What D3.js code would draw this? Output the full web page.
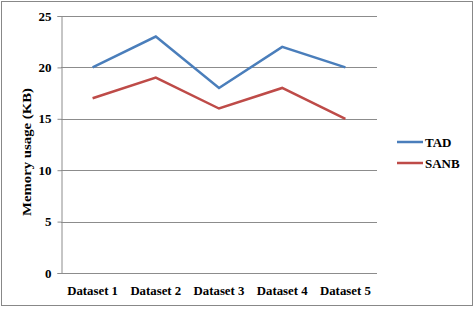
<!DOCTYPE html>
<html>
<head>
<meta charset="utf-8">
<script src="https://cdn.jsdelivr.net/npm/d3@7"></script>
<style>
  html, body { margin: 0; padding: 0; background: #fff; }
  svg { display: block; }
  text { font-family: "Liberation Serif", "Times New Roman", serif; font-weight: bold; fill: #000; }
</style>
</head>
<body>
<svg id="chart" width="475" height="309"></svg>
<script>
const categories = ['Dataset 1', 'Dataset 2', 'Dataset 3', 'Dataset 4', 'Dataset 5'];
const tadValues = [20, 23, 18, 22, 20];
const sanbValues = [17, 19, 16, 18, 15];
const yTicks = [0, 5, 10, 15, 20, 25];

const series = [
  { name: 'TAD', values: tadValues, color: '#4a7ebb' },
  { name: 'SANB', values: sanbValues, color: '#be4b48' }
];

const svg = d3.select('#chart');
const plot = { left: 61, right: 377, top: 16, bottom: 273 };

// outer frame
svg.append('rect')
  .attr('x', 1.5).attr('y', 1.5)
  .attr('width', 471).attr('height', 304)
  .attr('fill', '#fff')
  .attr('stroke', '#888').attr('stroke-width', 1);

const x = d3.scaleBand().domain(categories).range([plot.left, plot.right]);
const y = d3.scaleLinear().domain([0, 25]).range([plot.bottom, plot.top]);

// gridlines
svg.append('g')
  .selectAll('line')
  .data(yTicks.filter(d => d > 0))
  .join('line')
  .attr('x1', plot.left).attr('x2', plot.right)
  .attr('y1', d => Math.round(y(d)) + 0.5).attr('y2', d => Math.round(y(d)) + 0.5)
  .attr('stroke', '#8c8c8c').attr('stroke-width', 1);

// y axis
const yAxis = svg.append('g')
  .attr('transform', `translate(${plot.left + 0.5},0)`)
  .call(d3.axisLeft(y).tickValues(yTicks).tickSize(4).tickPadding(6));
yAxis.select('.domain').attr('stroke', '#8c8c8c');
yAxis.selectAll('.tick line').attr('stroke', '#8c8c8c');
yAxis.selectAll('text').style('font-size', '13px');

// x axis line
svg.append('line')
  .attr('x1', plot.left).attr('x2', plot.right)
  .attr('y1', plot.bottom + 0.5).attr('y2', plot.bottom + 0.5)
  .attr('stroke', '#8c8c8c');

svg.append('g')
  .selectAll('text')
  .data(categories)
  .join('text')
  .attr('x', d => x(d) + x.bandwidth() / 2)
  .attr('y', 295)
  .attr('text-anchor', 'middle')
  .style('font-size', '12.8px')
  .text(d => d);

// y title (stretched along its length like the original)
svg.append('text')
  .attr('transform', 'translate(31,152) rotate(-90)')
  .attr('text-anchor', 'middle')
  .attr('textLength', 128)
  .attr('lengthAdjust', 'spacingAndGlyphs')
  .style('font-size', '12.5px')
  .text('Memory usage (KB)');

// lines
const line = d3.line()
  .x((d, i) => x(categories[i]) + x.bandwidth() / 2)
  .y(d => y(d));

svg.append('g')
  .selectAll('path')
  .data(series)
  .join('path')
  .attr('d', d => line(d.values))
  .attr('fill', 'none')
  .attr('stroke', d => d.color)
  .attr('stroke-width', 2.5)
  .attr('stroke-linejoin', 'miter');

// legend
const legend = svg.append('g')
  .selectAll('g')
  .data(series)
  .join('g')
  .attr('transform', (d, i) => `translate(397,${142 + i * 21})`);
legend.append('line')
  .attr('x1', 0).attr('x2', 26)
  .attr('stroke', d => d.color).attr('stroke-width', 2.5);
legend.append('text')
  .attr('x', 28).attr('y', 4.5)
  .style('font-size', '13px')
  .text(d => d.name);
</script>
</body>
</html>
